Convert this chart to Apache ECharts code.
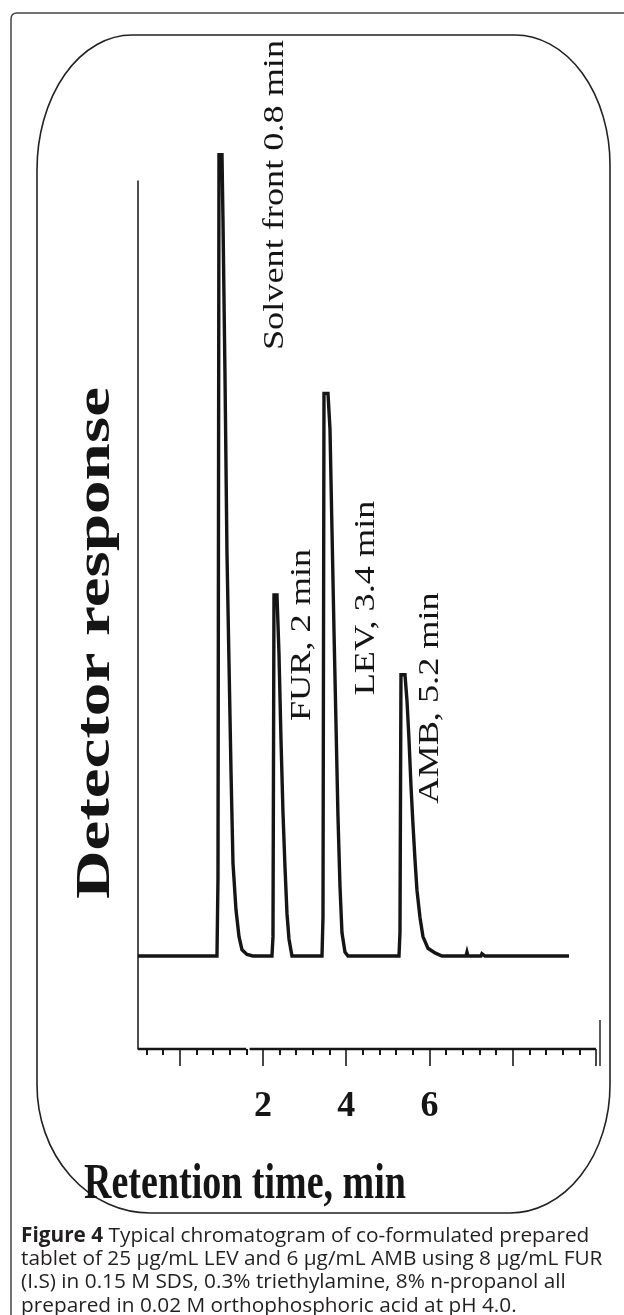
<!DOCTYPE html>
<html><head><meta charset="utf-8">
<script src="https://cdn.jsdelivr.net/npm/echarts@6/dist/echarts.min.js"></script>
<style>html,body{margin:0;padding:0;background:#fff}#c{width:624px;height:1315px}</style>
</head><body><div id="c"></div>
<script>
// Chromatogram trace: retention time (min) and detector response (arbitrary units)
const traceTime = [-1.0, 0.897, 0.921, 0.945, 1.017, 1.041, 1.089, 1.137, 1.185, 1.233, 1.281, 1.353, 1.426, 1.498, 1.618, 1.762,
  2.218, 2.242, 2.266, 2.338, 2.386, 2.434, 2.482, 2.530, 2.578, 2.626, 2.698,
  3.419, 3.443, 3.467, 3.563, 3.611, 3.659, 3.707, 3.755, 3.803, 3.851, 3.899, 3.971, 4.043,
  5.268, 5.292, 5.316, 5.412, 5.460, 5.508, 5.556, 5.604, 5.652, 5.700, 5.772, 5.844, 5.964, 6.133, 6.301,
  6.877, 6.901, 6.925, 7.237, 7.261, 7.333, 9.351];
const traceResponse = [0, 0, 10, 103.4, 103.4, 95, 75, 52, 38, 24, 12, 6, 2.5, 0.8, 0.2, 0,
  0, 2.5, 46.6, 46.6, 39, 28, 18.5, 11.5, 5.5, 2.2, 0,
  0, 5, 72.6, 72.6, 68, 55, 42, 30, 18, 9, 3, 0.5, 0,
  0, 3, 36.3, 36.3, 33, 28, 22, 17, 12.5, 8.5, 5, 2.5, 1, 0.4, 0,
  0, 0.5, 0, 0, 0.3, 0, 0];
// Time axis
const axisMin = -1, axisMax = 10;
const minorTicks = [-0.8, -0.4, 0.4, 0.8, 1.2, 1.6, 2.4, 2.8, 3.2, 3.6, 4.4, 4.8, 5.2, 5.6, 6.4, 6.8, 7.2, 7.6, 8.4, 8.8, 9.2, 9.6];
const majorTicks = [0, 2, 4, 6, 8, 10];
const tickLabels = [2, 4, 6];
const axisSegA = [-1, 1.6];
const axisSegB = [1.68, 10];
const respMin = -12, respMax = 100;
// Peak annotations
const peakLabels = ['Solvent front 0.8 min', 'FUR, 2 min', 'LEV, 3.4 min', 'AMB, 5.2 min'];
const caption = ['{b|Figure 4} Typical chromatogram of co-formulated prepared',
  'tablet of 25 µg/mL LEV and 6 µg/mL AMB using 8 µg/mL FUR',
  '(I.S) in 0.15 M SDS, 0.3% triethylamine, 8% n-propanol all',
  'prepared in 0.02 M orthophosphoric acid at pH 4.0.'];

const SERIF = '"Liberation Serif", "Times New Roman", serif';
const SANS = '"Open Sans", "Noto Sans", sans-serif';
echarts.graphic.registerShape('outerFrame', echarts.graphic.extendPath('M 11 1315 L 11 19 Q 11 13 17 13 L 624 13', {}));
echarts.graphic.registerShape('innerFrame', echarts.graphic.extendPath('M 132 35 L 515 35 A 95 130 0 0 1 610 165 L 610 1085 A 100 128 0 0 1 510 1213 L 150 1213 A 113 128 0 0 1 37 1085 L 37 170 A 95 135 0 0 1 132 35 Z', {}));
const chart = echarts.init(document.getElementById('c'), null, {renderer: 'canvas'});
const trace = traceTime.map((t, i) => [t, traceResponse[i]]);
const ink = '#151515';

function vText(txt, x, y, size, bold, sx) {
  return {type: 'text', x: x, y: y, rotation: Math.PI / 2, scaleX: sx, scaleY: 1,
    style: {text: txt, fontFamily: SERIF, fontSize: size, fontWeight: bold ? 'bold' : 'normal',
      fill: ink, align: 'center', verticalAlign: 'middle'}};
}

chart.setOption({
  animation: false,
  grid: {left: 138, right: 28, top: 181, bottom: 266},
  xAxis: [
    {type: 'value', min: axisMin, max: axisMax, position: 'bottom',
      axisLine: {show: false, onZero: false}, splitLine: {show: false},
      axisTick: {show: true, customValues: minorTicks, length: 6, lineStyle: {color: ink, width: 2}},
      axisLabel: {show: false}},
    {type: 'value', min: axisMin, max: axisMax, position: 'bottom',
      axisLine: {show: false, onZero: false}, splitLine: {show: false},
      axisTick: {show: true, customValues: majorTicks, length: 17, lineStyle: {color: '#333', width: 1.8}},
      axisLabel: {show: true, customValues: tickLabels, margin: 40, fontSize: 36, fontWeight: 'bold',
        fontFamily: SERIF, color: ink}}
  ],
  yAxis: {type: 'value', min: respMin, max: respMax,
    axisLine: {show: true, onZero: false, lineStyle: {color: ink, width: 1.5}},
    axisTick: {show: false}, axisLabel: {show: false}, splitLine: {show: false}},
  series: [
    {type: 'line', data: trace, symbol: 'none', clip: false, xAxisIndex: 0,
      lineStyle: {color: ink, width: 3.4, join: 'miter'}},
    {type: 'line', data: [[axisSegA[0], respMin], [axisSegA[1], respMin]], symbol: 'none', xAxisIndex: 0,
      lineStyle: {color: ink, width: 2.6}, clip: false},
    {type: 'line', data: [[axisSegB[0], respMin], [axisSegB[1], respMin]], symbol: 'none', xAxisIndex: 0,
      lineStyle: {color: ink, width: 2.6}, clip: false}
  ],
  graphic: [
    {type: 'outerFrame', style: {fill: null, stroke: '#444', lineWidth: 1.5}},
    {type: 'innerFrame', style: {fill: null, stroke: '#222', lineWidth: 1.6}},
    {type: 'line', shape: {x1: 600, y1: 1020, x2: 600, y2: 1066}, style: {stroke: '#333', lineWidth: 1.6}},
    vText(peakLabels[0], 275, 195, 29, false, 1.25),
    vText(peakLabels[1], 302, 635, 29, false, 1.25),
    vText(peakLabels[2], 366, 598, 29, false, 1.25),
    vText(peakLabels[3], 430, 698, 29, false, 1.25),
    vText('Detector response', 97, 643, 48, true, 1.4),
    {type: 'text', x: 245, y: 1185, scaleX: 1, scaleY: 1.35,
      style: {text: 'Retention time, min', fontFamily: SERIF, fontSize: 38, fontWeight: 'bold',
        fill: ink, align: 'center', verticalAlign: 'middle'}},
    {type: 'text', x: 21, y: 1224,
      style: {text: caption.join('\n'), fontFamily: SANS, fontSize: 20.8,
        lineHeight: 23.4, fill: '#231f20', align: 'left', verticalAlign: 'top',
        rich: {b: {fontWeight: 'bold', fontFamily: SANS, fontSize: 20.8, fill: '#231f20', lineHeight: 23.4}}}}
  ]
});
</script></body></html>
